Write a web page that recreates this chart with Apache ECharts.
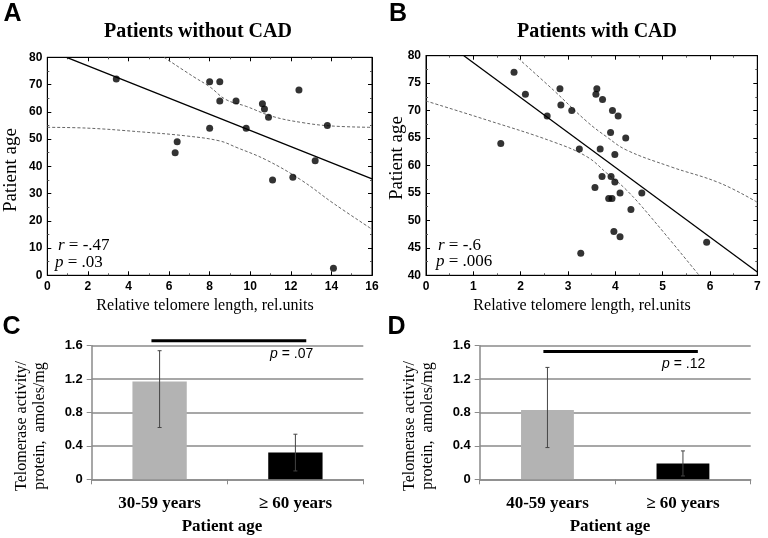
<!DOCTYPE html>
<html><head><meta charset="utf-8">
<script src="https://cdn.jsdelivr.net/npm/echarts@6/dist/echarts.min.js"></script>
<style>html,body{margin:0;padding:0;background:#fff}#c{width:768px;height:538px}</style>
</head><body><div id="c"></div>
<script>
// Panel A: patients without CAD
const aTelomere = [3.4, 8.0, 8.5, 8.5, 9.3, 10.6, 10.7, 10.9, 12.4, 8.0, 9.8, 13.8, 6.4, 6.3, 13.2, 11.1, 12.1, 14.1];
const aAge      = [72, 71, 71, 64, 64, 63, 61, 58, 68, 54, 54, 55, 49, 45, 42, 35, 36, 2.6];
const aFitX = [0.95, 16], aFitY = [80, 35.4];
const aUpperX = [5.75, 7.2, 8.0, 8.8, 9.8, 11.1, 12.6, 14, 16];
const aUpperY = [80, 72.9, 69.2, 64.5, 62, 58.3, 56, 54.8, 54.3];
const aLowerX = [0, 2, 4.5, 6.9, 8.5, 9.3, 10.8, 12.5, 14.1, 16];
const aLowerY = [54.3, 54, 52.7, 51.1, 49.3, 47, 42.3, 35, 26.4, 16.9];
// Panel B: patients with CAD
const bTelomere = [1.58, 1.86, 2.1, 2.56, 2.83, 2.85, 3.08, 3.24, 3.27, 3.57, 3.59, 3.61, 3.68, 3.72, 3.73, 3.86, 3.9, 3.91, 3.93, 3.94, 3.97, 3.99, 3.99, 4.06, 4.1, 4.1, 4.22, 4.33, 4.56, 5.93];
const bAge      = [64, 77, 73, 69, 74, 71, 70, 63, 44, 56, 73, 74, 63, 58, 72, 54, 66, 58, 54, 70, 48, 62, 57, 69, 55, 47, 65, 52, 55, 46];
const bFitX = [0.8, 7], bFitY = [80, 40.6];
const bUpperX = [1.95, 2.69, 3.4, 3.82, 4.24, 5.16, 6.21, 7];
const bUpperY = [79.5, 73.75, 68, 65.2, 62.8, 59.8, 56.8, 53.3];
const bLowerX = [0, 1.28, 2.69, 3.4, 3.82, 4.24, 4.8, 5.77];
const bLowerY = [71.75, 68.3, 64.3, 61.6, 58.6, 55.5, 50.1, 40];
// Panel C
const cCats = ['30-59 years', '\u2265 60 years'];
const cMeans = [1.17, 0.32];
const cErrLow = [0.62, 0.10];
const cErrHigh = [1.54, 0.54];
const cSigX = [-0.06, 1.08], cSigY = 1.66;
// Panel D
const dCats = ['40-59 years', '\u2265 60 years'];
const dMeans = [0.83, 0.19];
const dErrLow = [0.38, 0.04];
const dErrHigh = [1.34, 0.34];
const dSigX = [-0.03, 1.11], dSigY = 1.53;

const zip = (xs, ys) => xs.map((x, i) => [x, ys[i]]);
const SANS = '"Liberation Sans", Arial, sans-serif';
const SERIF = '"Liberation Serif", "Times New Roman", serif';

function scatterAxes(gi, xmin, xmax, xint, ymin, ymax, yint) {
  const common = {
    gridIndex: gi, type: 'value',
    axisLine: {show: true, onZero: false, lineStyle: {color: '#000', width: 1}},
    axisTick: {show: true, inside: true, length: 4, lineStyle: {color: '#000'}},
    minorTick: {show: true, splitNumber: 2, length: 2, lineStyle: {color: '#555'}},
    splitLine: {show: false}
  };
  const lbl = {color: '#000', fontFamily: SANS, fontWeight: 'bold', fontSize: 12};
  return {
    x: [
      Object.assign({}, common, {min: xmin, max: xmax, interval: xint, position: 'bottom', axisLabel: Object.assign({margin: 5}, lbl)}),
      Object.assign({}, common, {min: xmin, max: xmax, interval: xint, position: 'top', axisLabel: {show: false}})
    ],
    y: [
      Object.assign({}, common, {min: ymin, max: ymax, interval: yint, position: 'left', axisLabel: Object.assign({margin: 5}, lbl)}),
      Object.assign({}, common, {min: ymin, max: ymax, interval: yint, position: 'right', axisLabel: {show: false}})
    ]
  };
}
const sA = scatterAxes(0, 0, 16, 2, 0, 80, 10);
const sB = scatterAxes(1, 0, 7, 1, 40, 80, 5);

function barAxes(gi, cats) {
  return {
    x: [{
      gridIndex: gi, type: 'category', data: cats,
      axisLine: {show: true, onZero: false, lineStyle: {color: '#8a8a8a', width: 1.5}},
      axisTick: {show: true, length: 5, lineStyle: {color: '#8a8a8a'}},
      axisLabel: {color: '#000', fontFamily: SERIF, fontWeight: 'bold', fontSize: 17, margin: 16}
    }, {
      gridIndex: gi, type: 'value', min: -0.5, max: 1.5, show: false
    }],
    y: {
      gridIndex: gi, type: 'value', min: 0, max: 1.6, interval: 0.4,
      axisLine: {show: true, onZero: false, lineStyle: {color: '#8a8a8a', width: 1.5}},
      axisTick: {show: true, length: 5, lineStyle: {color: '#8a8a8a'}},
      axisLabel: {color: '#000', fontFamily: SANS, fontWeight: 'bold', fontSize: 13, margin: 9,
        formatter: v => v === 0 ? '0' : v.toFixed(1)},
      splitLine: {show: true, lineStyle: {color: '#8a8a8a', width: 1.5}}
    }
  };
}
const bC = barAxes(2, cCats);
const bD = barAxes(3, dCats);

function errorSeries(xi, yi, lo, hi) {
  return {
    type: 'custom', xAxisIndex: xi, yAxisIndex: yi, z: 10,
    data: lo.map((l, i) => [i, l, hi[i]]),
    encode: {x: 0, y: [1, 2]},
    renderItem: function (params, api) {
      const a = api.coord([api.value(0), api.value(1)]);
      const b = api.coord([api.value(0), api.value(2)]);
      const st = {stroke: '#444', lineWidth: 1};
      return {type: 'group', children: [
        {type: 'line', shape: {x1: a[0], y1: a[1], x2: b[0], y2: b[1]}, style: st},
        {type: 'line', shape: {x1: a[0] - 2, y1: a[1], x2: a[0] + 2, y2: a[1]}, style: st},
        {type: 'line', shape: {x1: b[0] - 2, y1: b[1], x2: b[0] + 2, y2: b[1]}, style: st}
      ]};
    }
  };
}

function scatterSeries(xi, yi, xs, ys, fx, fy, ux, uy, lx, ly) {
  return [
    {type: 'line', xAxisIndex: xi, yAxisIndex: yi, data: zip(ux, uy), smooth: 0.4, showSymbol: false, clip: true,
      lineStyle: {color: '#666', width: 1, type: [3, 2]}},
    {type: 'line', xAxisIndex: xi, yAxisIndex: yi, data: zip(lx, ly), smooth: 0.4, showSymbol: false, clip: true,
      lineStyle: {color: '#666', width: 1, type: [3, 2]}},
    {type: 'line', xAxisIndex: xi, yAxisIndex: yi, data: zip(fx, fy), showSymbol: false, clip: true,
      lineStyle: {color: '#000', width: 1.3}},
    {type: 'scatter', xAxisIndex: xi, yAxisIndex: yi, data: zip(xs, ys), symbolSize: 7,
      itemStyle: {color: '#000'}, z: 5}
  ];
}

function txt(x, y, text, font, opts) {
  return Object.assign({type: 'text', x: x, y: y, style: Object.assign({text: text, font: font, fill: '#000', textAlign: 'center', textVerticalAlign: 'middle'}, opts && opts.style || {})}, opts && opts.el || {});
}
function rich(x, y, pre, rest, size, fam, align) {
  return {type: 'text', x: x, y: y, style: {
    text: '{i|' + pre + '}{n|' + rest + '}', textAlign: align || 'left', textVerticalAlign: 'middle',
    rich: {i: {fontStyle: 'italic', fontFamily: fam, fontSize: size, fill: '#000'},
           n: {fontFamily: fam, fontSize: size, fill: '#000'}}}};
}

const chart = echarts.init(document.getElementById('c'), null, {renderer: 'canvas'});
chart.setOption({
  animation: false,
  backgroundColor: '#fff',
  grid: [
    {left: 47.3, top: 57.3, width: 324.7, height: 218, show: true, borderColor: '#000', borderWidth: 1},
    {left: 426, top: 55.7, width: 331.3, height: 219.6, show: true, borderColor: '#000', borderWidth: 1},
    {left: 91.7, top: 345.7, width: 271.6, height: 133.6},
    {left: 479.7, top: 345.7, width: 271, height: 133.6}
  ],
  xAxis: [...sA.x, ...sB.x, ...bC.x, ...bD.x],
  yAxis: [...sA.y, ...sB.y, bC.y, bD.y],
  series: [
    ...scatterSeries(0, 0, aTelomere, aAge, aFitX, aFitY, aUpperX, aUpperY, aLowerX, aLowerY),
    ...scatterSeries(2, 2, bTelomere, bAge, bFitX, bFitY, bUpperX, bUpperY, bLowerX, bLowerY),
    {type: 'bar', xAxisIndex: 4, yAxisIndex: 4, barWidth: '40%',
      data: cMeans.map((v, i) => ({value: v, itemStyle: {color: i === 0 ? '#b3b3b3' : '#000'}}))},
    errorSeries(4, 4, cErrLow, cErrHigh),
    {type: 'line', xAxisIndex: 5, yAxisIndex: 4, data: cSigX.map(x => [x, cSigY]), showSymbol: false, clip: false,
      lineStyle: {color: '#000', width: 3}},
    {type: 'bar', xAxisIndex: 6, yAxisIndex: 5, barWidth: '39%',
      data: dMeans.map((v, i) => ({value: v, itemStyle: {color: i === 0 ? '#b3b3b3' : '#000'}}))},
    errorSeries(6, 5, dErrLow, dErrHigh),
    {type: 'line', xAxisIndex: 7, yAxisIndex: 5, data: dSigX.map(x => [x, dSigY]), showSymbol: false, clip: false,
      lineStyle: {color: '#000', width: 3}}
  ],
  graphic: [
    txt(12.5, 14, 'A', 'bold 25px ' + SANS),
    txt(398, 14, 'B', 'bold 25px ' + SANS),
    txt(11.5, 327, 'C', 'bold 25px ' + SANS),
    txt(396.5, 327, 'D', 'bold 25px ' + SANS),
    txt(198, 32, 'Patients without CAD', 'bold 20px ' + SERIF),
    txt(597, 32, 'Patients with CAD', 'bold 20px ' + SERIF),
    txt(11.5, 170, 'Patient age', '19px ' + SERIF, {el: {rotation: Math.PI / 2}}),
    txt(397, 158, 'Patient age', '19px ' + SERIF, {el: {rotation: Math.PI / 2}}),
    txt(205, 306, 'Relative telomere length, rel.units', '16px ' + SERIF),
    txt(582, 306, 'Relative telomere length, rel.units', '16px ' + SERIF),
    rich(58, 246, 'r', ' = -.47', 17, SERIF),
    rich(55, 263, 'p', ' = .03', 17, SERIF),
    rich(438, 246, 'r', ' = -.6', 17, SERIF),
    rich(436, 262, 'p', ' = .006', 17, SERIF),
    rich(270, 354, 'p', ' = .07', 14, SANS),
    rich(662, 364, 'p', ' = .12', 14, SANS),
    txt(31, 426, 'Telomerase activity/\nprotein,  amoles/mg', '16px ' + SERIF, {el: {rotation: Math.PI / 2}, style: {lineHeight: 18}}),
    txt(419, 426, 'Telomerase activity/\nprotein,  amoles/mg', '16px ' + SERIF, {el: {rotation: Math.PI / 2}, style: {lineHeight: 18}}),
    txt(222, 527, 'Patient age', 'bold 17px ' + SERIF),
    txt(610, 527, 'Patient age', 'bold 17px ' + SERIF)
  ]
});
</script></body></html>
